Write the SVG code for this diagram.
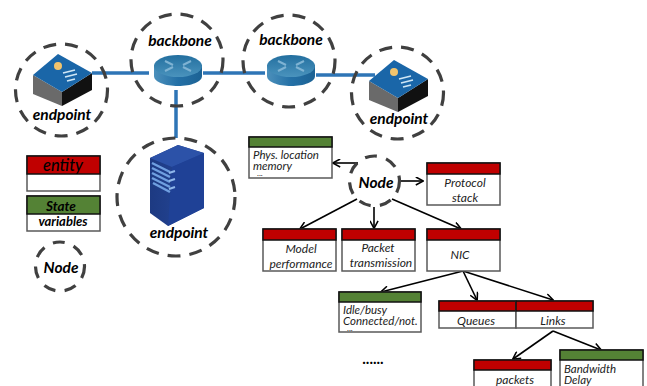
<svg xmlns="http://www.w3.org/2000/svg" xmlns:xlink="http://www.w3.org/1999/xlink" width="647" height="386" viewBox="0 0 647 386">
<style>
text{font-family:"Lato","Liberation Sans",sans-serif;font-style:italic;fill:#000}
.lbl{font-size:15.500px;font-weight:700;text-anchor:middle}
.t{font-size:12px;text-anchor:middle;fill:#222}
.l{font-size:11.500px;fill:#222}
.dots{font-size:8px;fill:#222;font-style:normal}
.ring{fill:none;stroke:#404040;stroke-width:3.200;stroke-dasharray:13 9}
.sm{stroke-dasharray:12 9.500}
.body{fill:#fff;stroke:#595959;stroke-width:1.500}
.red{fill:#c00000;stroke:#111;stroke-width:1.500}
.green{fill:#548235;stroke:#111;stroke-width:1.500}
.link{stroke:#2e75b6;stroke-width:3.500;fill:none}
.arr{stroke:#000;stroke-width:1.600;fill:none;marker-end:url(#ah)}
</style>
<defs>
<marker id="ah" viewBox="0 0 10 10" refX="9" refY="5" markerWidth="9" markerHeight="9" markerUnits="userSpaceOnUse" orient="auto"><path d="M1 0.500L9.500 5L1 9.500" fill="none" stroke="#000" stroke-width="1.700"/></marker>
<linearGradient id="rt" x1="0" y1="0" x2="0" y2="1"><stop offset="0" stop-color="#236f9f"/><stop offset="1" stop-color="#4a93bd"/></linearGradient>
<linearGradient id="rs" x1="0" y1="0" x2="1" y2="0"><stop offset="0" stop-color="#4c90bb"/><stop offset=".5" stop-color="#2470a6"/><stop offset="1" stop-color="#1c6294"/></linearGradient>
<linearGradient id="sv" x1="0" y1="0" x2="1" y2="0"><stop offset="0" stop-color="#1d3a82"/><stop offset="1" stop-color="#274a9e"/></linearGradient>
<g id="router">
<path d="M0 10V21C0 27 11 31 24 31S48 27 48 21V10Z" fill="url(#rs)"/>
<ellipse cx="24" cy="11" rx="24" ry="11" fill="url(#rt)"/>
<path d="M11 6L19 10M11 16L19 12M37 6L29 10M37 16L29 12" stroke="#7fb3d3" stroke-width="2" fill="none"/>
</g>
<g id="device">
<path d="M0 21L29 38V52L0 40Z" fill="#6a6a6a"/>
<path d="M29 38L59 19V36L29 52Z" fill="#111"/>
<path d="M0 21L25 0L59 19L29 38Z" fill="#1a66a8"/>
<circle cx="25" cy="12" r="4" fill="#f2c46d"/>
<path d="M30 19L42 16M32 23L44 20M34 27L42 25" stroke="#cfe6f5" stroke-width="1.600"/>
</g>
</defs>
<g id="connectors">
<path class="link" d="M92 73H149M203 73H265M316 75H375M176 90V138"/>
<path class="arr" d="M358 163H333"/>
<path class="arr" d="M401 181H423"/>
<path class="arr" d="M357 199L300 229"/>
<path class="arr" d="M374 207V228"/>
<path class="arr" d="M392 199L461 229"/>
<path class="arr" d="M463 271L381 292"/>
<path class="arr" d="M463 271L477 300"/>
<path class="arr" d="M463 271L553 300"/>
<path class="arr" d="M553 331L513 359"/>
<path class="arr" d="M553 331L601 350"/>
</g>
<g id="endpoint-left">
<use href="#device" x="33" y="54"/>
<circle class="ring" cx="61.500" cy="90" r="46"/>
<text class="lbl" x="62" y="120">endpoint</text>
</g>
<g id="backbone-1">
<use href="#router" x="154" y="55"/>
<circle class="ring" cx="177" cy="60" r="46"/>
<text class="lbl" x="180" y="46">backbone</text>
</g>
<g id="backbone-2">
<use href="#router" x="267" y="55"/>
<circle class="ring" cx="289" cy="61" r="46"/>
<text class="lbl" x="291" y="45">backbone</text>
</g>
<g id="endpoint-right">
<use href="#device" x="369" y="60"/>
<circle class="ring" cx="397.500" cy="93" r="46"/>
<text class="lbl" x="399" y="124">endpoint</text>
</g>
<g id="endpoint-server">
<path d="M150 158L178 145L204 153V208L168 226L150 213Z" fill="url(#sv)"/>
<path d="M150 158L178 145L204 153L172 167Z" fill="#2c52a8"/>
<path d="M172 167L204 153V208L168 226Z" fill="#1f4196"/>
<path d="M152 163L170 172M152 168L170 177M152 173L170 182M152 178L170 187M153 183L170 192" stroke="#6f9fe0" stroke-width="2.500"/>
<path d="M169 173L175 171M169 181L175 179M169 189L175 187" stroke="#8fb7ea" stroke-width="2"/>
<circle class="ring" cx="176" cy="197" r="59"/>
<text class="lbl" x="179" y="238">endpoint</text>
</g>
<g id="legend-entity">
<rect class="body" x="27" y="156" width="73" height="35"/>
<rect class="red" x="27" y="156" width="73" height="18"/>
<text x="63" y="171" text-anchor="middle" font-size="16.500" font-weight="500">entity</text>
</g>
<g id="legend-state">
<rect class="body" x="27" y="196" width="73" height="35"/>
<rect class="green" x="27" y="196" width="73" height="18"/>
<text class="lbl" x="61" y="211" style="font-size:13.500px">State</text>
<text class="lbl" x="63" y="226" style="font-size:13px">variables</text>
</g>
<g id="legend-node">
<circle class="ring sm" cx="60" cy="266.500" r="24.500"/>
<text class="lbl" x="61" y="273">Node</text>
</g>
<g id="node">
<circle class="ring sm" cx="374.500" cy="181" r="25"/>
<text class="lbl" x="376" y="188">Node</text>
</g>
<g id="phys">
<rect class="body" x="249" y="137" width="83" height="41"/>
<rect class="green" x="249" y="137" width="83" height="10"/>
<text class="l" x="253" y="159">Phys. location</text>
<text class="l" x="253" y="169.500">memory</text>
<text class="dots" x="257" y="176">...</text>
</g>
<g id="protocol">
<rect class="body" x="427" y="163" width="73" height="42"/>
<rect class="red" x="427" y="163" width="73" height="11"/>
<text class="t" x="465" y="187">Protocol</text>
<text class="t" x="465" y="202">stack</text>
</g>
<g id="model">
<rect class="body" x="263" y="229" width="73" height="42"/>
<rect class="red" x="263" y="229" width="73" height="11"/>
<text class="t" x="301" y="253">Model</text>
<text class="t" x="301" y="268">performance</text>
</g>
<g id="packet">
<rect class="body" x="342" y="229" width="73" height="42"/>
<rect class="red" x="342" y="229" width="73" height="11"/>
<text class="t" x="378" y="252">Packet</text>
<text class="t" x="381" y="267">transmission</text>
</g>
<g id="nic">
<rect class="body" x="427" y="229" width="73" height="42"/>
<rect class="red" x="427" y="229" width="73" height="11"/>
<text class="t" x="460" y="259">NIC</text>
</g>
<g id="idle">
<rect class="body" x="339" y="292" width="82" height="40"/>
<rect class="green" x="339" y="292" width="82" height="10"/>
<text class="l" x="343" y="314">Idle/busy</text>
<text class="l" x="343" y="324.500">Connected/not.</text>
<text class="dots" x="347" y="331">...</text>
</g>
<g id="queues">
<rect class="body" x="439" y="301" width="77" height="27"/>
<rect class="red" x="439" y="301" width="77" height="10"/>
<text class="t" x="476" y="325">Queues</text>
</g>
<g id="links">
<rect class="body" x="516" y="301" width="77" height="27"/>
<rect class="red" x="516" y="301" width="77" height="10"/>
<text class="t" x="553" y="325">Links</text>
</g>
<g id="packets">
<rect class="body" x="474" y="360" width="77" height="30"/>
<rect class="red" x="474" y="360" width="77" height="10"/>
<text class="t" x="515" y="384">packets</text>
</g>
<g id="bandwidth">
<rect class="body" x="560" y="350" width="83" height="40"/>
<rect class="green" x="560" y="350" width="83" height="10"/>
<text class="l" x="564" y="373">Bandwidth</text>
<text class="l" x="564" y="384">Delay</text>
</g>
<text id="more" x="373" y="364" text-anchor="middle" font-size="15" style="font-style:normal;font-weight:700">......</text>
</svg>
